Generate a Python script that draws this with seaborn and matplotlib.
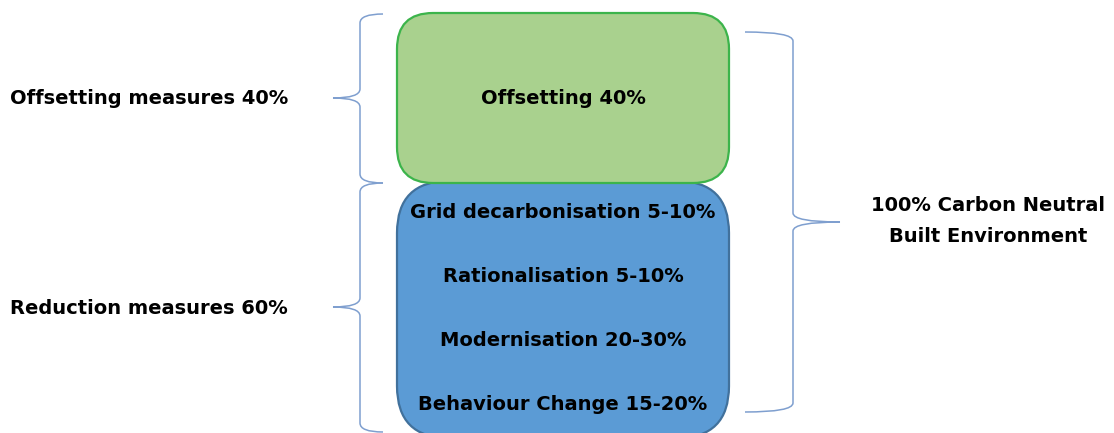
import matplotlib
matplotlib.use("Agg")
import matplotlib.pyplot as plt
import seaborn as sns
from matplotlib.patches import FancyBboxPatch, PathPatch
from matplotlib.path import Path

sns.set_style("white")
plt.rcParams['font.family'] = ['DejaVu Sans']
plt.rcParams['text.color'] = 'black'

# share of the route to carbon neutrality
group_labels = ['Offsetting measures 40%', 'Reduction measures 60%']
box_labels = ['Offsetting 40%']
reduction_items = ['Grid decarbonisation 5-10%', 'Rationalisation 5-10%',
                   'Modernisation 20-30%', 'Behaviour Change 15-20%']
total_label = '100% Carbon Neutral\nBuilt Environment'

# layout in pixel units of the original picture
W, H = 1114, 433
box_x0, box_x1 = 397, 729
green_y = (13, 183)
blue_y = (181, 438)
item_y = [213, 276, 340, 405]
brace_color = '#7f9fcf'

fig = plt.figure(figsize=(W / 100, H / 100), dpi=100)
ax = fig.add_axes([0, 0, 1, 1])
ax.set_xlim(0, W)
ax.set_ylim(H, 0)
ax.axis('off')


def rbox(y0, y1, r, face, edge):
    p = FancyBboxPatch((box_x0, y0), box_x1 - box_x0, y1 - y0,
                       boxstyle=f"round,pad=0,rounding_size={r}",
                       fc=face, ec=edge, lw=1.6, mutation_aspect=1)
    ax.add_patch(p)


def brace(y0, y1, x_end, x_spine, x_tip, r=9, tip=None):
    ym = (y0 + y1) / 2 if tip is None else tip
    verts = [(x_end, y0), (x_spine, y0), (x_spine, y0 + r),
             (x_spine, ym - r), (x_spine, ym), (x_tip, ym),
             (x_spine, ym), (x_spine, ym + r),
             (x_spine, y1 - r), (x_spine, y1), (x_end, y1)]
    codes = [Path.MOVETO, Path.CURVE3, Path.CURVE3,
             Path.LINETO, Path.CURVE3, Path.CURVE3,
             Path.CURVE3, Path.CURVE3,
             Path.LINETO, Path.CURVE3, Path.CURVE3]
    ax.add_patch(PathPatch(Path(verts, codes), fc='none', ec=brace_color, lw=1.1))


rbox(*blue_y, 52, '#5b9bd5', '#41719c')
rbox(*green_y, 36, '#a9d18e', '#3cb44b')

brace(14, 183, 383, 360, 333, tip=98)
brace(183, 432, 383, 360, 333, tip=307)
brace(32, 412, 745, 793, 840, tip=222)

fs = 14
ax.text(10, 98, group_labels[0], fontsize=fs, fontweight='bold', va='center', ha='left')
ax.text(10, 309, group_labels[1], fontsize=fs, fontweight='bold', va='center', ha='left')
ax.text((box_x0 + box_x1) / 2, 99, box_labels[0], fontsize=fs, fontweight='bold',
        va='center', ha='center')
for lab, y in zip(reduction_items, item_y):
    ax.text((box_x0 + box_x1) / 2, y, lab, fontsize=fs, fontweight='bold',
            va='center', ha='center')
ax.text(988, 221, total_label, fontsize=fs, fontweight='bold', va='center',
        ha='center', linespacing=1.85)

fig.savefig('out.png', dpi=100)
